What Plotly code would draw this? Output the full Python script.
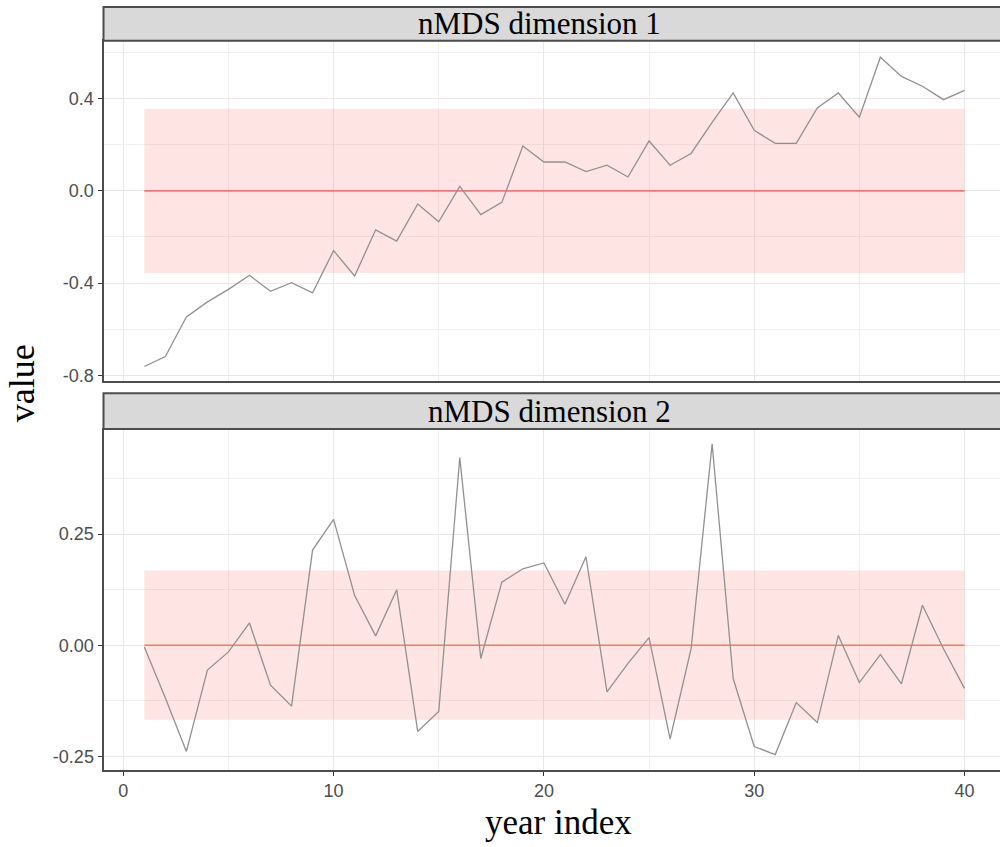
import plotly.graph_objects as go

# ---- data ----
year_index = list(range(1, 41))

dim1_values = [-0.761, -0.718, -0.546, -0.481, -0.427, -0.366, -0.435, -0.398, -0.442, -0.259,
               -0.369, -0.169, -0.218, -0.057, -0.134, 0.019, -0.103, -0.050, 0.194, 0.125,
               0.125, 0.083, 0.111, 0.060, 0.216, 0.111, 0.162, 0.297, 0.424, 0.262,
               0.206, 0.206, 0.359, 0.424, 0.319, 0.579, 0.496, 0.453, 0.395, 0.435]

dim2_values = [-0.004, -0.119, -0.239, -0.056, -0.015, 0.050, -0.090, -0.137, 0.214, 0.283,
               0.112, 0.021, 0.125, -0.194, -0.149, 0.422, -0.030, 0.142, 0.172, 0.185,
               0.092, 0.199, -0.105, -0.041, 0.017, -0.211, -0.008, 0.453, -0.075, -0.228,
               -0.246, -0.129, -0.174, 0.022, -0.084, -0.021, -0.087, 0.090, -0.008, -0.097]

band_x = [1, 40]
dim1_mean = [0.0, 0.0]
dim1_band_lower = [-0.356, -0.356]
dim1_band_upper = [0.356, 0.356]
dim2_mean = [0.0, 0.0]
dim2_band_lower = [-0.168, -0.168]
dim2_band_upper = [0.168, 0.168]

strip_titles = ["nMDS dimension 1", "nMDS dimension 2"]
x_title = "year index"
y_title = "value"

dim1_ticks = [-0.8, -0.4, 0.0, 0.4]
dim1_ticklabels = ["-0.8", "-0.4", "0.0", "0.4"]
dim2_ticks = [-0.25, 0.0, 0.25]
dim2_ticklabels = ["-0.25", "0.00", "0.25"]
x_ticks = [0, 10, 20, 30, 40]
x_ticklabels = ["0", "10", "20", "30", "40"]

# ---- styling ----
W, H = 1000, 847
SERIF = "Liberation Serif, Times New Roman, serif"
SANS = "Liberation Sans, Arial, sans-serif"
band_fill = "rgba(248,118,109,0.2)"
mean_col = "rgb(248,118,109)"
line_col = "rgb(145,145,145)"
grid_major = "#e8e8e8"
grid_minor = "#efefef"
border_col = "#4d4d4d"


def py(pix):
    return 1 - pix / H


fig = go.Figure()

panels = [
    ("x", "y", dim1_values, dim1_band_lower, dim1_band_upper, dim1_mean),
    ("x2", "y2", dim2_values, dim2_band_lower, dim2_band_upper, dim2_mean),
]
for xa, ya, vals, lo, hi, mean in panels:
    fig.add_trace(go.Scatter(x=band_x, y=lo, xaxis=xa, yaxis=ya, mode="lines",
                             line=dict(width=0), showlegend=False, hoverinfo="skip"))
    fig.add_trace(go.Scatter(x=band_x, y=hi, xaxis=xa, yaxis=ya, mode="lines",
                             line=dict(width=0), fill="tonexty", fillcolor=band_fill,
                             showlegend=False, hoverinfo="skip"))
    fig.add_trace(go.Scatter(x=band_x, y=mean, xaxis=xa, yaxis=ya, mode="lines",
                             line=dict(color=mean_col, width=1.6), showlegend=False))
    fig.add_trace(go.Scatter(x=year_index, y=vals, xaxis=xa, yaxis=ya, mode="lines",
                             line=dict(color=line_col, width=1.3), showlegend=False))

x_left_px = 103.5
x0_px, x_unit = 123.3, 21.03
x_range = [(x_left_px - x0_px) / x_unit, (W - x0_px) / x_unit]

common_x = dict(range=x_range, domain=[x_left_px / W, 1.0], showgrid=True,
                gridcolor=grid_major, gridwidth=1.2, zeroline=False,
                tickvals=x_ticks, ticktext=x_ticklabels,
                showline=True, linecolor=border_col, linewidth=2,
                mirror=True,
                minor=dict(dtick=5, tick0=0, showgrid=True, gridcolor=grid_minor, gridwidth=1),
                tickfont=dict(family=SANS, size=18, color="#4d4d4d"))
common_y = dict(showgrid=True, gridcolor=grid_major, gridwidth=1.2, zeroline=False,
                showline=True, linecolor=border_col, linewidth=2, ticks="outside",
                ticklen=4, tickcolor="#333333", tickwidth=1,
                tickfont=dict(family=SANS, size=18, color="#4d4d4d"))

fig.update_layout(
    width=W, height=H,
    margin=dict(l=0, r=0, t=0, b=0),
    paper_bgcolor="white", plot_bgcolor="white",
    xaxis=dict(common_x, anchor="y", showticklabels=False, ticks=""),
    xaxis2=dict(common_x, anchor="y2", ticks="outside", ticklen=4, tickcolor="#333333",
                tickwidth=1),
    yaxis=dict(common_y, anchor="x", domain=[py(383.3), py(41)],
               range=[-0.826, 0.65], tickvals=dim1_ticks, ticktext=dim1_ticklabels,
               minor=dict(dtick=0.2, tick0=0, showgrid=True, gridcolor=grid_minor, gridwidth=1)),
    yaxis2=dict(common_y, anchor="x2", domain=[py(773.3), py(431.7)],
                range=[-0.280, 0.485], tickvals=dim2_ticks, ticktext=dim2_ticklabels,
                minor=dict(dtick=0.125, tick0=0, showgrid=True, gridcolor=grid_minor, gridwidth=1)),
)

# facet strips
strips = [(7, 41, strip_titles[0], 539), (395, 431, strip_titles[1], 549)]
for top, bot, txt, cx in strips:
    fig.add_shape(type="rect", xref="paper", yref="paper",
                  x0=(x_left_px) / W, x1=1.02, y0=py(bot), y1=py(top),
                  fillcolor="#d9d9d9", line=dict(color=border_col, width=2), layer="above")
    fig.add_annotation(text=txt, xref="paper", yref="paper", x=cx / W, y=py((top + bot) / 2),
                       showarrow=False, xanchor="center", yanchor="middle",
                       font=dict(family=SERIF, size=31, color="black"))

# axis titles
fig.add_annotation(text=y_title, xref="paper", yref="paper", x=22 / W, y=py(385),
                   textangle=-90, showarrow=False, xanchor="center", yanchor="middle",
                   font=dict(family=SERIF, size=36, color="black"))
fig.add_annotation(text=x_title, xref="paper", yref="paper", x=558 / W, y=py(826),
                   showarrow=False, xanchor="center", yanchor="middle",
                   font=dict(family=SERIF, size=35, color="black"))

fig.write_html(
    "out.html",
    config={"displayModeBar": False},
    post_script="document.body.style.margin='0';document.body.style.padding='0';"
                "document.body.style.overflow='hidden';",
)
